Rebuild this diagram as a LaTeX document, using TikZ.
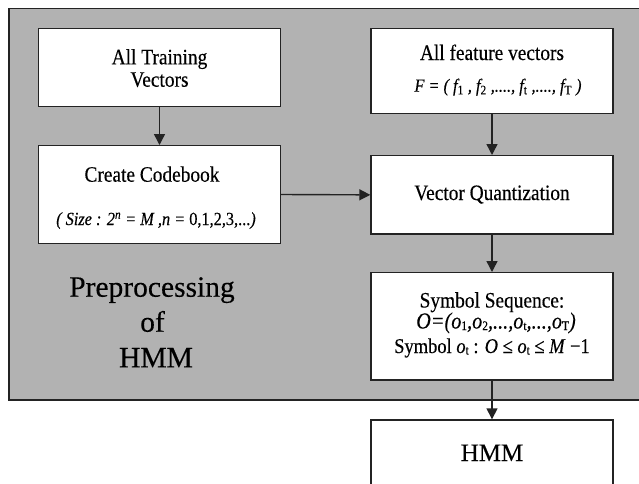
\documentclass[tikz,border=0pt]{standalone}
\usepackage{fontspec}
\setmainfont{Liberation Serif}
\newfontfamily\condf[FakeStretch=0.88,FakeBold=0.3]{Liberation Serif}
\newfontfamily\bigf[FakeBold=0.3]{Liberation Serif}
\usetikzlibrary{arrows.meta}
\definecolor{bgray}{RGB}{178,178,178}
\definecolor{lineg}{RGB}{35,35,35}
\newcommand{\sbs}[1]{\textsubscript{\upshape #1}}
\newcommand{\sbo}[1]{\raisebox{-1.5pt}{\fontsize{13}{13}\selectfont\upshape #1}}
\begin{document}
\begin{tikzpicture}[x=1pt,y=-1pt,
  box/.style={draw=lineg,line width=1.4pt,fill=white,inner sep=0pt,minimum width=242pt},
  txt/.style={anchor=base,inner sep=0pt,font=\condf\fontsize{22}{26}\selectfont},
  frm/.style={anchor=base,inner sep=0pt,font=\condf\fontsize{18.5}{21}\selectfont\itshape},
  big/.style={anchor=base,inner sep=0pt,font=\bigf\fontsize{29.5}{34}\selectfont},
  tight/.style={text height=13pt,text depth=3pt},
  arr/.style={draw=lineg,line width=1.4pt,-{Triangle[length=11pt,width=11pt]}}]
\useasboundingbox (0,0) rectangle (639,483);
\clip (0,0) rectangle (639,483);
\fill[white] (0,0) rectangle (639,483);
% background panel
\fill[bgray] (9,8.5) rectangle (660,400);
\draw[lineg,line width=1.6pt] (660,8.5) -- (9,8.5) -- (9,400) -- (660,400);
% boxes
\node[box,minimum height=78.4pt] (b1) at (159.5,67.5) {};
\node[box,minimum height=97.6pt] (b2) at (159.5,194.5) {};
\node[box,minimum height=85pt] (b3) at (492,70.8) {};
\node[box,minimum height=78.3pt] (b4) at (492,194.85) {};
\node[box,minimum height=107.3pt] (b5) at (492,326.35) {};
\node[box,minimum height=90pt,anchor=north] (b6) at (492,419.3) {};
% texts
\node[txt] (t1a) at (159.5,64.3) {All Training};
\node[txt] (t1b) at (159.5,86.7) {Vectors};
\node[txt] (t2a) at (152,181.7) {Create Codebook};
\node[frm] (t2b) at (156,225) {( Size : 2\textsuperscript{n} = M ,n = \upshape 0,1,2,3,...\itshape )};
\node[txt] (t3a) at (492,60) {All feature vectors};
\node[frm] (t3b) at (498,91.7) {F = ( f\sbs{1} , f\sbs{2} ,...., f\sbs{t} ,...., f\sbs{T} )};
\node[txt] (t4) at (492,200) {Vector Quantization};
\node[txt,tight] (t5a) at (492,307.5) {Symbol Sequence:};
\node[anchor=base,inner sep=0pt,font=\condf\fontsize{23}{27}\selectfont\itshape] (t5b) at (496,328.5) {O=(o\sbo{1},o\sbo{2},...,o\sbo{t},...,o\sbo{T})};
\node[anchor=base,inner sep=0pt,font=\condf\fontsize{21}{25}\selectfont] (t5c) at (492,353) {Symbol \textit{o}\sbo{t} : \textit{O} ≤ \textit{o}\sbo{t} ≤ \textit{M} −1};
\node[anchor=base,inner sep=0pt,font=\bigf\fontsize{25}{30}\selectfont] (t6) at (492,461) {HMM};
\node[big] (p1) at (152,296.7) {Preprocessing};
\node[big] (p2) at (152.5,331.7) {of};
\node[big] (p3) at (156,367.3) {HMM};
% arrows
\draw[arr] (b1.south) -- (b2.north);
\draw[arr] (b3.south) -- (b4.north);
\draw[arr] (b2.east) -- (b4.west);
\draw[arr] (b4.south) -- (b5.north);
\draw[arr] (b5.south) -- (b6.north);
\end{tikzpicture}
\end{document}
